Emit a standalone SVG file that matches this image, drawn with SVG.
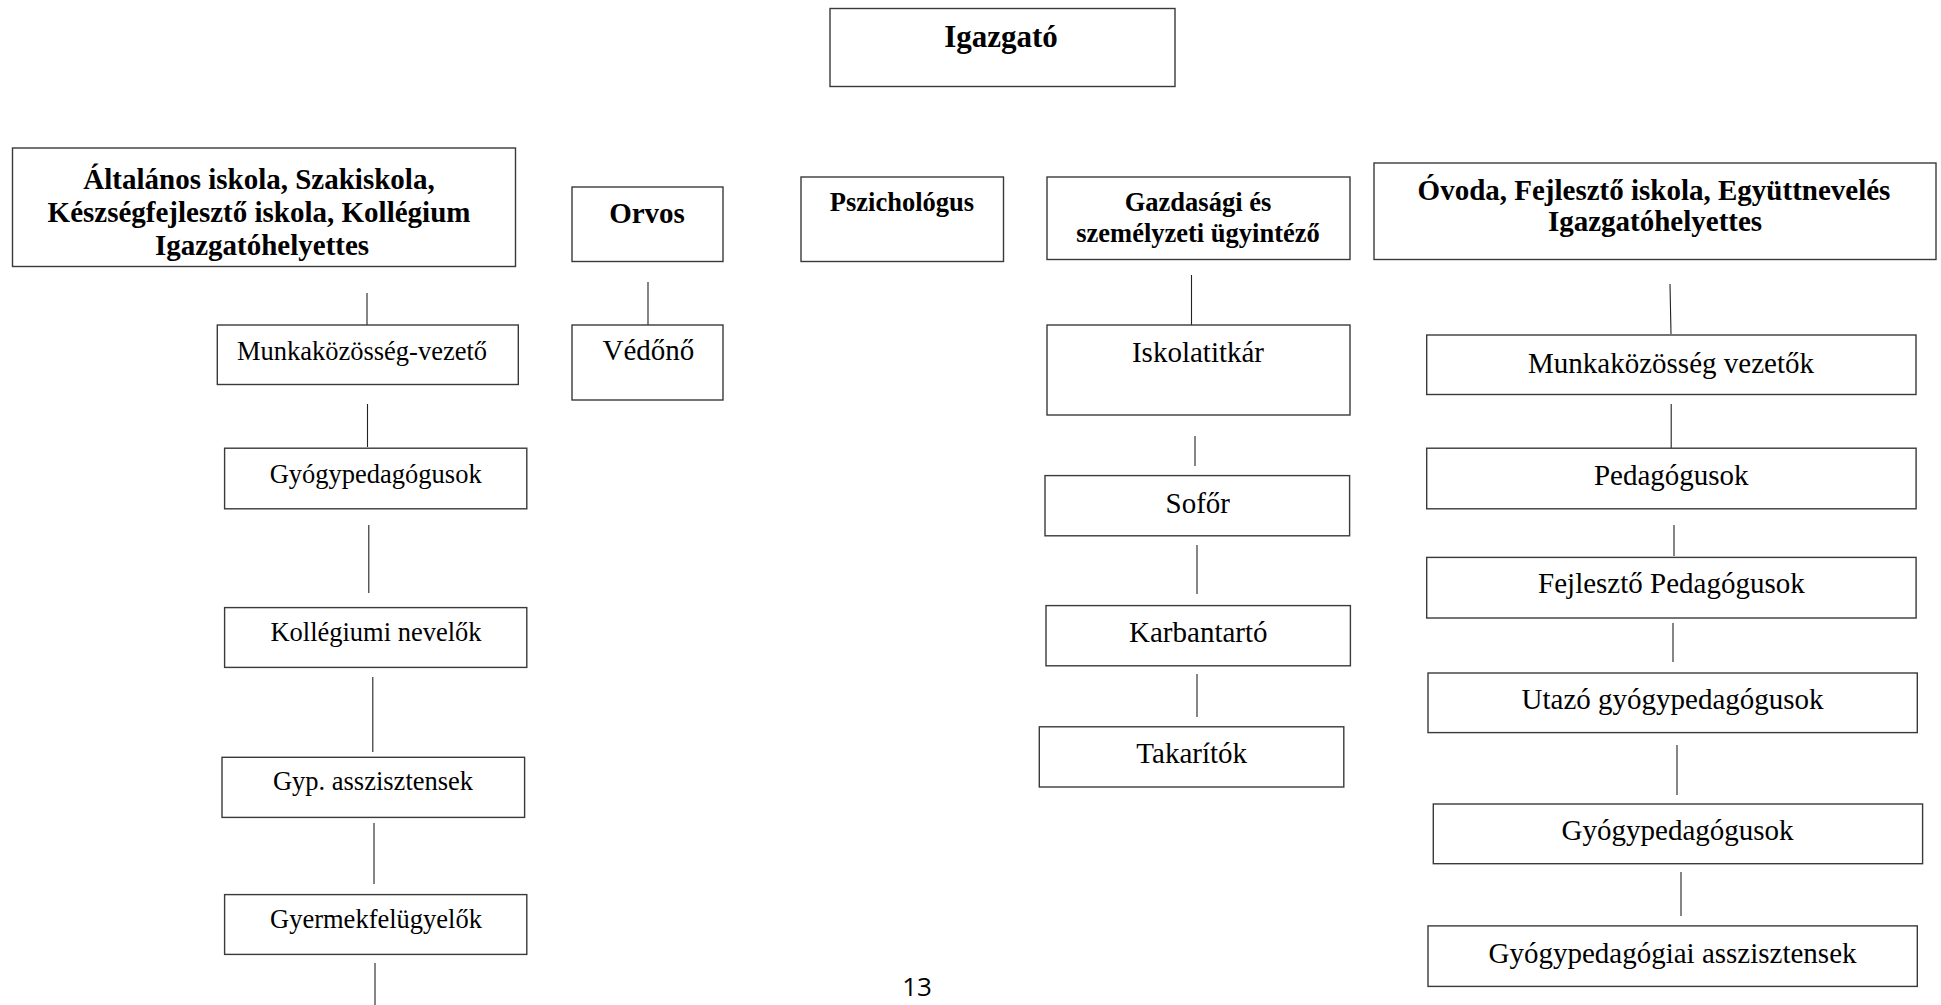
<svg xmlns="http://www.w3.org/2000/svg" width="1941" height="1005" viewBox="0 0 1941 1005">
<style>
.box{fill:#fff;stroke:#3a3a3a;stroke-width:1.4}
.ln{stroke:#222;stroke-width:1.1;fill:none}
text{font-family:"Liberation Serif","Times New Roman",serif;fill:#000;text-anchor:middle}
.b{font-weight:bold}
.t31{font-size:31px}
.t29{font-size:29px}
.t26{font-size:26.5px}
.pg{font-family:"Open Sans","Noto Sans",sans-serif;font-size:26px}
</style>
<rect width="1941" height="1005" fill="#fff"/>
<g id="connectors">
<line class="ln" x1="367" y1="293" x2="367" y2="325"/>
<line class="ln" x1="367.5" y1="404" x2="367.5" y2="447"/>
<line class="ln" x1="368.8" y1="525" x2="368.8" y2="593"/>
<line class="ln" x1="372.8" y1="677" x2="372.8" y2="752"/>
<line class="ln" x1="374" y1="823" x2="374" y2="884"/>
<line class="ln" x1="375" y1="963" x2="375" y2="1005"/>
<line class="ln" x1="648" y1="282" x2="648" y2="325"/>
<line class="ln" x1="1191.5" y1="275" x2="1191.5" y2="325"/>
<line class="ln" x1="1195" y1="436" x2="1195" y2="466"/>
<line class="ln" x1="1197" y1="545" x2="1197" y2="594"/>
<line class="ln" x1="1197" y1="674" x2="1197" y2="717"/>
<line class="ln" x1="1670" y1="284" x2="1671" y2="334"/>
<line class="ln" x1="1671.2" y1="404" x2="1671.2" y2="448"/>
<line class="ln" x1="1674" y1="525" x2="1674" y2="556"/>
<line class="ln" x1="1673" y1="623" x2="1673" y2="662"/>
<line class="ln" x1="1677" y1="745" x2="1677" y2="795"/>
<line class="ln" x1="1681" y1="872" x2="1681" y2="916"/>
</g>
<g id="igazgato">
<rect class="box" x="830" y="8.5" width="345" height="78"/>
<text class="b t31" x="1001" y="47">Igazgató</text>
</g>
<g id="altalanos-ighelyettes">
<rect class="box" x="12.5" y="148" width="503" height="118.5"/>
<text class="b t29" x="259" y="189">Általános iskola, Szakiskola,</text>
<text class="b t29" x="259" y="222">Készségfejlesztő iskola, Kollégium</text>
<text class="b t29" x="262" y="255">Igazgatóhelyettes</text>
</g>
<g id="orvos">
<rect class="box" x="572" y="187" width="151" height="74.5"/>
<text class="b t29" x="647" y="223">Orvos</text>
</g>
<g id="pszichologus">
<rect class="box" x="801" y="177" width="202.5" height="84.5"/>
<text class="b t26" x="902" y="211">Pszichológus</text>
</g>
<g id="gazdasagi">
<rect class="box" x="1047" y="177" width="303" height="82.5"/>
<text class="b t26" x="1198" y="211">Gazdasági és</text>
<text class="b t26" x="1198" y="242">személyzeti ügyintéző</text>
</g>
<g id="ovoda-ighelyettes">
<rect class="box" x="1374" y="163" width="562" height="96.5"/>
<text class="b t29" x="1654" y="200">Óvoda, Fejlesztő iskola, Együttnevelés</text>
<text class="b t29" x="1655" y="231">Igazgatóhelyettes</text>
</g>
<g id="munkakozosseg-vezeto">
<rect class="box" x="217.3" y="325" width="301" height="59.5"/>
<text class="t26" x="362" y="359.5">Munkaközösség-vezető</text>
</g>
<g id="vedono">
<rect class="box" x="572" y="325" width="151" height="75"/>
<text class="t29" x="648.4" y="360">Védőnő</text>
</g>
<g id="iskolatitkar">
<rect class="box" x="1047" y="325" width="303" height="90"/>
<text class="t29" x="1198" y="361.7">Iskolatitkár</text>
</g>
<g id="munkakozosseg-vezetok">
<rect class="box" x="1426.7" y="335" width="489.3" height="59.5"/>
<text class="t29" x="1671" y="372.5">Munkaközösség vezetők</text>
</g>
<g id="gyogypedagogusok-bal">
<rect class="box" x="224.6" y="448.2" width="302.2" height="60.6"/>
<text class="t26" x="375.7" y="483">Gyógypedagógusok</text>
</g>
<g id="kollegiumi-nevelok">
<rect class="box" x="224.6" y="607.6" width="302.2" height="59.8"/>
<text class="t26" x="376" y="641">Kollégiumi nevelők</text>
</g>
<g id="gyp-asszisztensek">
<rect class="box" x="222" y="757.3" width="302.6" height="60.1"/>
<text class="t26" x="373" y="790.4">Gyp. asszisztensek</text>
</g>
<g id="gyermekfelugyelok">
<rect class="box" x="224.6" y="894.6" width="302.2" height="59.8"/>
<text class="t26" x="376" y="928">Gyermekfelügyelők</text>
</g>
<g id="sofor">
<rect class="box" x="1045" y="475.6" width="304.6" height="60.2"/>
<text class="t29" x="1197.8" y="512.7">Sofőr</text>
</g>
<g id="karbantarto">
<rect class="box" x="1046" y="605.6" width="304.4" height="60.2"/>
<text class="t29" x="1198.3" y="642.3">Karbantartó</text>
</g>
<g id="takaritok">
<rect class="box" x="1039.3" y="726.8" width="304.5" height="60.2"/>
<text class="t29" x="1191.7" y="763.4">Takarítók</text>
</g>
<g id="pedagogusok">
<rect class="box" x="1426.7" y="448.2" width="489.4" height="60.6"/>
<text class="t29" x="1671.3" y="484.9">Pedagógusok</text>
</g>
<g id="fejleszto-pedagogusok">
<rect class="box" x="1426.7" y="557.4" width="489.4" height="60.6"/>
<text class="t29" x="1671.4" y="592.9">Fejlesztő Pedagógusok</text>
</g>
<g id="utazo-gyogypedagogusok">
<rect class="box" x="1428" y="673" width="489.3" height="59.6"/>
<text class="t29" x="1672.6" y="708.6">Utazó gyógypedagógusok</text>
</g>
<g id="gyogypedagogusok-jobb">
<rect class="box" x="1433.3" y="804" width="489.3" height="59.7"/>
<text class="t29" x="1677.6" y="839.8">Gyógypedagógusok</text>
</g>
<g id="gyogypedagogiai-asszisztensek">
<rect class="box" x="1428" y="925.9" width="489.3" height="60.5"/>
<text class="t29" x="1672.5" y="962.5">Gyógypedagógiai asszisztensek</text>
</g>
<text class="pg" x="917" y="996">13</text>
</svg>
